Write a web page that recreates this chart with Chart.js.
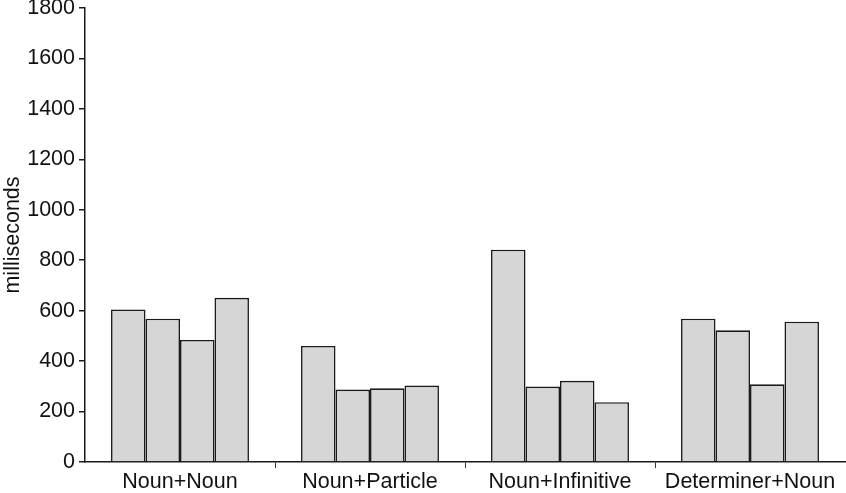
<!DOCTYPE html>
<html>
<head>
<meta charset="utf-8">
<script src="https://cdn.jsdelivr.net/npm/chart.js@4"></script>
<style>
  html, body { margin: 0; padding: 0; background: #fff; }
  #wrap { width: 846px; height: 493px; }
</style>
</head>
<body>
<div id="wrap"><canvas id="bars"></canvas></div>
<script>
// categories and the four bars in each group (ms)
const categories = ["Noun+Noun", "Noun+Particle", "Noun+Infinitive", "Determiner+Noun"];
const bar1 = [605, 460, 842, 568];
const bar2 = [568, 287, 299, 522];
const bar3 = [484, 292, 322, 308];
const bar4 = [651, 303, 237, 556];
const yTicks = [0, 200, 400, 600, 800, 1000, 1200, 1400, 1600, 1800];

const family = "'Liberation Sans', Arial, sans-serif";

function series(values) {
    return {
        data: values,
        backgroundColor: "#d6d6d6",
        borderColor: "#1a1a1a",
        borderWidth: 1.6,
        barPercentage: 1.0,
        categoryPercentage: 0.726
    }
}

new Chart("bars", {
    type: "bar",
    data: {
        labels: categories,
        datasets: [series(bar1), series(bar2), series(bar3), series(bar4)]
    },
    options: {
        responsive: true,
        maintainAspectRatio: false,
        animation: false,
        layout: { padding: { top: 0, right: 1, left: 0, bottom: 0 } },
        plugins: {
            legend: { display: false },
            tooltip: { enabled: false }
        },
        scales: {
            x: {
                grid: {
                    display: true,
                    offset: true,
                    drawOnChartArea: false,
                    drawTicks: true,
                    tickLength: 6,
                    // only the marks between groups, not at either end
                    color: ctx => (ctx.type === "tick" && ctx.index > 0 && ctx.index < categories.length) ? "#333" : "rgba(0,0,0,0)",
                    lineWidth: 1
                },
                border: { display: true, color: "#1a1a1a", width: 1.5 },
                ticks: { color: "#111", font: { family: family, size: 21.5 }, padding: 1, maxRotation: 0 },
                afterFit(scale) { scale.height = 31 }
            },
            y: {
                min: 0,
                max: 1800,
                afterBuildTicks(scale) { scale.ticks = yTicks.map(v => ({ value: v })) },
                grid: {
                    drawOnChartArea: false,
                    drawTicks: true,
                    tickLength: 6,
                    color: "#1a1a1a",
                    lineWidth: 1.5
                },
                border: { display: true, color: "#1a1a1a", width: 1.5 },
                ticks: {
                    color: "#111",
                    font: { family: family, size: 21.5 },
                    padding: 4,
                    callback: v => String(v)
                },
                title: {
                    display: true,
                    text: "milliseconds",
                    color: "#111",
                    font: { family: family, size: 21.5 },
                    padding: 0
                },
                afterFit(scale) {
                    scale.width = 85;
                    scale.paddingTop = 8;
                }
            }
        }
    }
})
</script>
</body>
</html>
